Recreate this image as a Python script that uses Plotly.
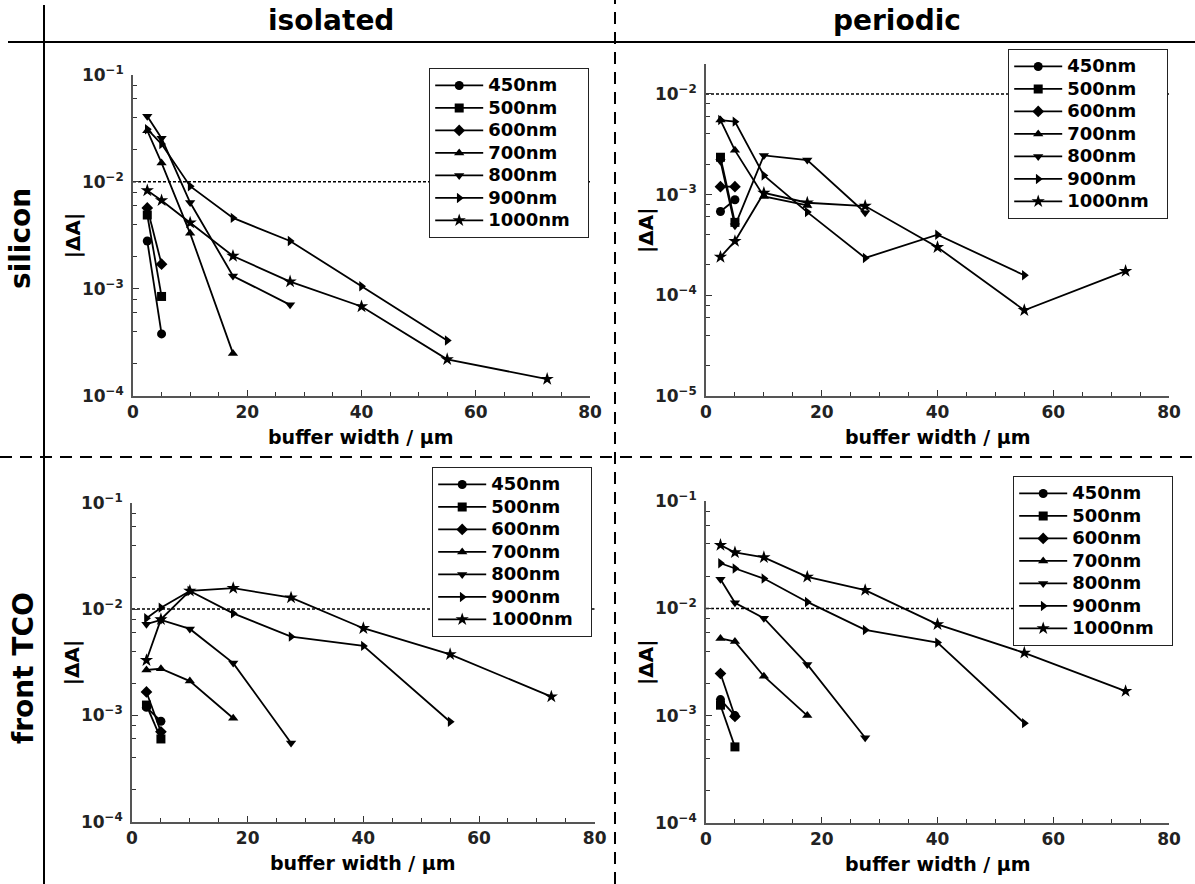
import math
import plotly.graph_objects as go

# ---------------- data ----------------
buffer_width = [2.5, 5, 10, 17.5, 27.5, 40, 55, 72.5]
wavelengths = ["450nm", "500nm", "600nm", "700nm", "800nm", "900nm", "1000nm"]

# isolated / silicon
iso_si_450 = [2.8e-3, 3.8e-4]
iso_si_500 = [4.9e-3, 8.5e-4]
iso_si_600 = [5.7e-3, 1.7e-3]
iso_si_700 = [3.0e-2, 1.5e-2, 3.3e-3, 2.5e-4]
iso_si_800 = [4.1e-2, 2.55e-2, 6.4e-3, 1.32e-3, 7.1e-4]
iso_si_900 = [3.1e-2, 2.25e-2, 9.1e-3, 4.6e-3, 2.8e-3, 1.06e-3, 3.3e-4]
iso_si_1000 = [8.3e-3, 6.7e-3, 4.15e-3, 2.03e-3, 1.17e-3, 6.85e-4, 2.2e-4, 1.44e-4]

# periodic / silicon
per_si_450 = [6.8e-4, 8.9e-4]
per_si_500 = [2.35e-3, 5.3e-4]
per_si_600 = [1.2e-3, 1.2e-3]
per_si_700 = [5.5e-3, 2.75e-3, 9.6e-4, 7.8e-4]
per_si_800 = [2.15e-3, 4.9e-4, 2.45e-3, 2.2e-3, 6.6e-4]
per_si_900 = [5.5e-3, 5.3e-3, 1.55e-3, 6.7e-4, 2.35e-4, 4.0e-4, 1.58e-4]
per_si_1000 = [2.4e-4, 3.45e-4, 1.04e-3, 8.3e-4, 7.7e-4, 3.0e-4, 7.1e-5, 1.74e-4]

# isolated / front TCO
iso_tco_450 = [1.19e-3, 8.8e-4]
iso_tco_500 = [1.25e-3, 6.0e-4]
iso_tco_600 = [1.66e-3, 7.0e-4]
iso_tco_700 = [2.67e-3, 2.75e-3, 2.1e-3, 9.4e-4]
iso_tco_800 = [7.2e-3, 7.9e-3, 6.5e-3, 3.1e-3, 5.5e-4]
iso_tco_900 = [8.2e-3, 1.03e-2, 1.48e-2, 9.1e-3, 5.5e-3, 4.5e-3, 8.7e-4]
iso_tco_1000 = [3.3e-3, 8.0e-3, 1.48e-2, 1.57e-2, 1.28e-2, 6.6e-3, 3.75e-3, 1.5e-3]

# periodic / front TCO
per_tco_450 = [1.41e-3, 1.0e-3]
per_tco_500 = [1.25e-3, 5.1e-4]
per_tco_600 = [2.47e-3, 9.8e-4]
per_tco_700 = [5.25e-3, 4.9e-3, 2.33e-3, 1.0e-3]
per_tco_800 = [1.87e-2, 1.13e-2, 8.1e-3, 3.0e-3, 6.2e-4]
per_tco_900 = [2.64e-2, 2.36e-2, 1.9e-2, 1.15e-2, 6.3e-3, 4.8e-3, 8.5e-4]
per_tco_1000 = [3.9e-2, 3.33e-2, 3.0e-2, 1.97e-2, 1.48e-2, 7.1e-3, 3.85e-3, 1.69e-3]

threshold = 1e-2
col_titles = ["isolated", "periodic"]
row_titles = ["silicon", "front TCO"]
x_title = "buffer width / µm"
y_title = "|ΔA|"
x_ticks = [0, 20, 40, 60, 80]

panels = [
    [iso_si_450, iso_si_500, iso_si_600, iso_si_700, iso_si_800, iso_si_900, iso_si_1000],
    [per_si_450, per_si_500, per_si_600, per_si_700, per_si_800, per_si_900, per_si_1000],
    [iso_tco_450, iso_tco_500, iso_tco_600, iso_tco_700, iso_tco_800, iso_tco_900, iso_tco_1000],
    [per_tco_450, per_tco_500, per_tco_600, per_tco_700, per_tco_800, per_tco_900, per_tco_1000],
]

# ---------------- styling ----------------
W, H = 1195, 884
symbols = ["circle", "square", "diamond", "triangle-up", "triangle-down", "triangle-right", "star"]
FONT = "DejaVu Sans"


def px_x(p):
    return p / W


def px_y(p):
    return 1 - p / H


# axes geometry in pixels: (x0, x1, ytop, ybottom), y log range
geom = [
    (133, 590, 74.7, 396, [-4, -1]),
    (706, 1169, 64, 396, [-5, -1.703]),
    (132, 594.7, 502.7, 821.7, [-4, -1]),
    (706, 1169, 501.3, 822.7, [-4, -1]),
]
legend_pos = [(429, 68), (1008, 49), (432, 467), (1013, 476)]

fig = go.Figure()
for k, series in enumerate(panels):
    sfx = "" if k == 0 else str(k + 1)
    leg = "legend" + sfx
    fig.add_trace(go.Scatter(
        x=[0, 80], y=[threshold, threshold], mode="lines",
        line=dict(color="black", width=1.5, dash="3px,2px"),
        xaxis="x" + sfx, yaxis="y" + sfx, showlegend=False, hoverinfo="skip"))
    for name, sym, vals in zip(wavelengths, symbols, series):
        fig.add_trace(go.Scatter(
            x=buffer_width[:len(vals)], y=vals,
            name='<span style="font-size:18px">%s&nbsp;&nbsp;</span>' % name, mode="lines+markers",
            line=dict(color="black", width=1.8),
            marker=dict(symbol=sym, size=9 if sym != "star" else 10, color="black"),
            xaxis="x" + sfx, yaxis="y" + sfx, legend=leg))

layout = dict(
    template="none",
    width=W, height=H, margin=dict(l=0, r=0, t=0, b=0, pad=0, autoexpand=False),
    paper_bgcolor="white", plot_bgcolor="white",
    font=dict(family=FONT, color="#222"),
    showlegend=True,
)
annotations = []
for k, (x0, x1, yt, yb, yr) in enumerate(geom):
    sfx = "" if k == 0 else str(k + 1)
    dec = [d for d in range(int(yr[0]), 0) if d <= yr[1] + 1e-9]
    minor = [m * 10 ** d for d in range(int(yr[0]), 0) for m in (2, 4, 6, 8)
             if yr[0] <= (d + math.log10(m)) <= yr[1]]
    layout["xaxis" + sfx] = dict(
        domain=[px_x(x0), px_x(x1)], anchor="y" + sfx, range=[0, 80], automargin=False,
        showline=True, linecolor="#555", linewidth=1.5, mirror=False,
        showgrid=False, zeroline=False,
        ticks="inside", ticklen=6, tickwidth=1.2, tickcolor="#333",
        tickmode="array", tickvals=x_ticks,
        minor=dict(tickvals=[v for v in range(5, 80, 5) if v % 20], ticks="inside",
                   ticklen=4, tickwidth=1, tickcolor="#333", showgrid=False),
        tickfont=dict(family=FONT, size=17, weight="bold", color="#222"),
    )
    layout["yaxis" + sfx] = dict(
        domain=[px_y(yb), px_y(yt)], anchor="x" + sfx, type="log", range=yr, automargin=False,
        showline=True, linecolor="#555", linewidth=1.5, mirror=False,
        showgrid=False, zeroline=False,
        ticks="inside", ticklen=6, tickwidth=1.2, tickcolor="#333",
        tickmode="array", tickvals=[10.0 ** d for d in dec],
        ticktext=["10<sup>\u2212%d</sup>" % (-d) for d in dec],
        minor=dict(tickvals=minor, ticks="inside", ticklen=4, tickwidth=1, tickcolor="#333", showgrid=False),
        tickfont=dict(family=FONT, size=17, weight="bold", color="#222"),
        ticklabelstandoff=4,
    )
    lx, ly = legend_pos[k]
    layout["legend" + sfx] = dict(
        x=px_x(lx), y=px_y(ly), xanchor="left", yanchor="top",
        bgcolor="white", bordercolor="#222", borderwidth=1.2,
        font=dict(family=FONT, size=15, weight="bold", color="black"),
        itemwidth=48, tracegroupgap=0,
    )
    annotations.append(dict(
        x=(x0 + x1) / 2 / W, y=px_y(yb + 41), xref="paper", yref="paper",
        text=x_title, showarrow=False, xanchor="center", yanchor="middle",
        font=dict(family=FONT, size=19, weight="bold", color="black")))
    annotations.append(dict(
        x=px_x(x0 - 60), y=px_y((yt + yb) / 2), xref="paper", yref="paper",
        text=y_title, showarrow=False, textangle=-90, xanchor="center", yanchor="middle",
        font=dict(family=FONT, size=20, weight="bold", color="black")))

title_font = dict(family=FONT, size=28, weight="bold", color="black")
annotations.append(dict(x=px_x(331), y=px_y(20), xref="paper", yref="paper", text=col_titles[0],
                        showarrow=False, xanchor="center", yanchor="middle", font=title_font))
annotations.append(dict(x=px_x(897), y=px_y(20), xref="paper", yref="paper", text=col_titles[1],
                        showarrow=False, xanchor="center", yanchor="middle", font=title_font))
annotations.append(dict(x=px_x(21), y=px_y(239), xref="paper", yref="paper", text=row_titles[0],
                        showarrow=False, textangle=-90, xanchor="center", yanchor="middle", font=title_font))
annotations.append(dict(x=px_x(23), y=px_y(668), xref="paper", yref="paper", text=row_titles[1],
                        showarrow=False, textangle=-90, xanchor="center", yanchor="middle", font=title_font))
layout["annotations"] = annotations

layout["shapes"] = [
    dict(type="line", xref="paper", yref="paper", x0=px_x(8), x1=1, y0=px_y(42), y1=px_y(42),
         line=dict(color="black", width=2)),
    dict(type="line", xref="paper", yref="paper", x0=px_x(44), x1=px_x(44), y0=0, y1=px_y(5),
         line=dict(color="black", width=2)),
    dict(type="line", xref="paper", yref="paper", x0=px_x(615), x1=px_x(615), y0=0, y1=1,
         line=dict(color="black", width=2, dash="12px,8px")),
    dict(type="line", xref="paper", yref="paper", x0=0, x1=1, y0=px_y(457), y1=px_y(457),
         line=dict(color="black", width=2, dash="12px,8px")),
]

fig.update_layout(**layout)
fig.write_html("out.html", config={"displayModeBar": False},
               post_script="document.body.style.margin='0px';")
